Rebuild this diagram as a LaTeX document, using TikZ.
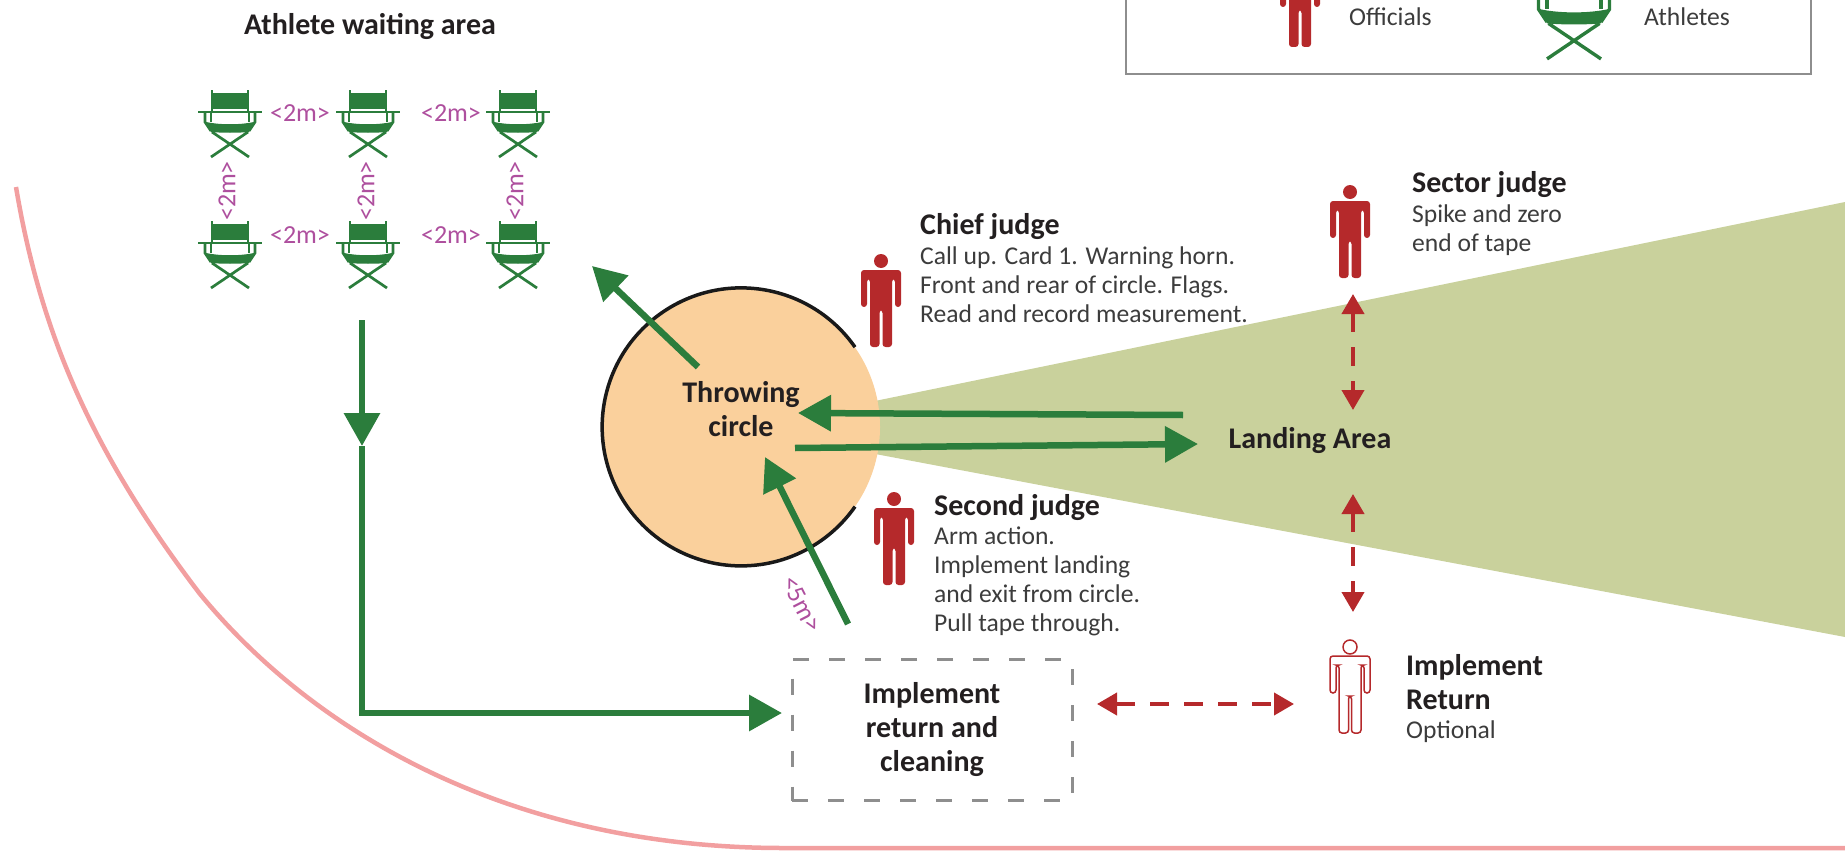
\documentclass[tikz,border=0pt]{standalone}
\usepackage{fontspec}
\setmainfont{Carlito}
\usetikzlibrary{arrows.meta}
\definecolor{athletegreen}{HTML}{2B7D3C}
\definecolor{officialred}{HTML}{B5292B}
\definecolor{trackpink}{HTML}{F29FA0}
\definecolor{distpurple}{HTML}{AE4F9E}
\definecolor{circleorange}{HTML}{FAD09C}
\definecolor{sectorolive}{HTML}{C9D19C}
\definecolor{boxgray}{HTML}{8E8E8E}
\definecolor{titledark}{HTML}{231F20}
\definecolor{bodydark}{HTML}{3C3C3C}
\tikzset{
  titletext/.style={anchor=west, inner sep=0pt, text=titledark, align=left, font=\fontsize{30}{34}\selectfont\bfseries},
  bodytext/.style={anchor=west, inner sep=0pt, text=bodydark, align=left, font=\fontsize{25.6}{29}\selectfont},
  mainlabel/.style={inner sep=0pt, text=titledark, align=center, font=\fontsize{30}{34}\selectfont\bfseries},
  distlabel/.style={inner sep=0pt, text=distpurple, font=\fontsize{26}{28}\selectfont},
  greenline/.style={draw=athletegreen, line width=6.5pt},
  greenarrow/.style={greenline, -{Triangle[length=33pt,width=35pt]}},
  redarrow/.style={draw=officialred, line width=4pt, dash pattern=on 19pt off 15pt,
    {Triangle[length=20pt,width=22pt]}-{Triangle[length=20pt,width=22pt]}},
  chair/.pic={
    \fill[athletegreen] (-17,3) rectangle (17,19);
    \draw[athletegreen] (-18,0) -- (-18,22) (18,0) -- (18,22);
    \draw[athletegreen] (-32,0) -- (32,0);
    \draw[athletegreen] (-25,0) -- (-25,-10) -- (-19,-19) (25,0) -- (25,-10) -- (19,-19);
    \draw[athletegreen] (-19,0) -- (-19,-10) (19,0) -- (19,-10);
    \fill[athletegreen] (-24,-10) .. controls (-10,-13) and (10,-13) .. (24,-10) -- (19,-20) .. controls (8,-21) and (-8,-21) .. (-19,-20) -- cycle;
    \draw[athletegreen] (-19,-45) -- (18,-20) (19,-45) -- (-18,-20);
  },
  person/.pic={
    \path[pic actions] (0,-7) circle (7);
    \path[pic actions, rounded corners=3pt] (-20,-16) -- (20,-16) -- (20,-53) -- (14,-53) -- (14,-25) -- (11,-25) -- (11,-93) -- (1.5,-93) -- (1.5,-56) -- (-1.5,-56) -- (-1.5,-93) -- (-11,-93) -- (-11,-25) -- (-14,-25) -- (-14,-53) -- (-20,-53) -- cycle;
  },
}
\begin{document}
\begin{tikzpicture}[x=1pt,y=1pt]
  \useasboundingbox (0,-851) rectangle (1845,0);
  \clip (0,-851) rectangle (1845,0);
  % Track edge
  \draw[trackpink, line width=4.5pt] (16,-187) .. controls (40,-330) and (90,-450) .. (200,-594) .. controls (320,-740) and (520,-848) .. (783,-848) -- (1850,-848);
  % Legend
  \draw[boxgray, line width=2.5pt] (1126,5) -- (1126,-74) -- (1811,-74) -- (1811,5);
  \pic[fill=officialred] at (1300,46) {person};
  \pic[scale=1.42, line width=3.4pt] at (1574,5) {chair};
  \node (officials) [bodytext] at (1349,-17) {Officials};
  \node (athletes) [bodytext] at (1644,-17) {Athletes};
  % Landing sector and circle
  \fill[sectorolive] (870,-402) -- (1845,-202) -- (1845,-637) -- (870,-453) -- cycle;
  \node (throwcircle) [circle, fill=circleorange, minimum size=278pt, inner sep=0pt] at (741,-427) {};
  \draw[black!90, line width=3.5pt] (throwcircle.35) arc[start angle=35, end angle=325, radius=139pt];
  % Chairs
  \foreach \cx in {230, 368, 518} {
    \pic[line width=2.7pt] at (\cx,-112) {chair};
    \pic[line width=2.7pt] at (\cx,-243) {chair};
  }
  % Nodes
  \node (waiting) [mainlabel] at (370,-26) {Athlete waiting area};
  \node (throwing) [mainlabel] at (741,-409) {Throwing\\circle};
  \node (landing) [mainlabel] at (1310,-441) {Landing Area};
  \node (returnbox) [mainlabel, draw=boxgray, line width=3pt, dash pattern=on 16pt off 20pt, minimum width=280pt, minimum height=141pt] at (932,-730) {Implement\\return and\\cleaning};
  % Officials
  \pic[fill=officialred] at (881,-254) {person};
  \pic[fill=officialred] at (894,-492) {person};
  \pic[fill=officialred] at (1350,-185) {person};
  \pic[draw=officialred, line width=1.5pt] at (1350,-640) {person};
  \node (chief) [titletext] at (920,-227) {Chief judge};
  \node (chiefbody) [bodytext] at (920,-285) {Call up. Card 1. Warning horn.\\Front and rear of circle. Flags.\\Read and record measurement.};
  \node (second) [titletext] at (934,-508) {Second judge};
  \node (secondbody) [bodytext] at (934,-581) {Arm action.\\Implement landing\\and exit from circle.\\Pull tape through.};
  \node (sector) [titletext] at (1412,-185) {Sector judge};
  \node (sectorbody) [bodytext] at (1412,-230) {Spike and zero\\end of tape};
  \node (returner) [titletext] at (1406,-682) {Implement\\Return};
  \node (returnerbody) [bodytext] at (1406,-732) {Optional};
  % Distances
  \foreach \dx/\dy in {300/113, 451/113, 300/235, 451/235}
    \node [distlabel] at (\dx,-\dy) {<2m>};
  \foreach \dx in {227, 366, 515}
    \node [distlabel, rotate=90] at (\dx,-191) {<2m>};
  \node (five) [distlabel, rotate=-63] at (802,-604) {<5m>};
  % Arrow
  \coordinate (out-s) at (698,-367);
  \coordinate (out-e) at (592,-266);
  \coordinate (back-s) at (1183,-415);
  \coordinate (back-e) at (798,-413);
  \coordinate (throw-s) at (795,-448);
  \coordinate (throw-e) at (1198,-444);
  \coordinate (entry-s) at (848,-624);
  \coordinate (entry-e) at (765,-457);
  \coordinate (queue-s) at (362,-320);
  \coordinate (queue-m) at (362,-446);
  \coordinate (queue-c) at (362,-713);
  \coordinate (queue-e) at (782,-713);
  \draw[greenarrow] (out-s) -- (out-e);
  \draw[greenarrow] (back-s) -- (back-e);
  \draw[greenarrow] (throw-s) -- (throw-e);
  \draw[greenarrow] (entry-s) -- (entry-e);
  \draw[greenarrow] (queue-s) -- (queue-m);
  \draw[greenarrow] (queue-m) -- (queue-c) -- (queue-e);

  \coordinate (sec-a) at (1353,-294);
  \coordinate (sec-b) at (1353,-410);
  \coordinate (ret-a) at (1353,-494);
  \coordinate (ret-b) at (1353,-612);
  \coordinate (box-a) at (1097,-704);
  \coordinate (box-b) at (1294,-704);
  \draw[redarrow] (sec-a) -- (sec-b);
  \draw[redarrow] (ret-a) -- (ret-b);
  \draw[redarrow] (box-a) -- (box-b);
\end{tikzpicture}
\end{document}
